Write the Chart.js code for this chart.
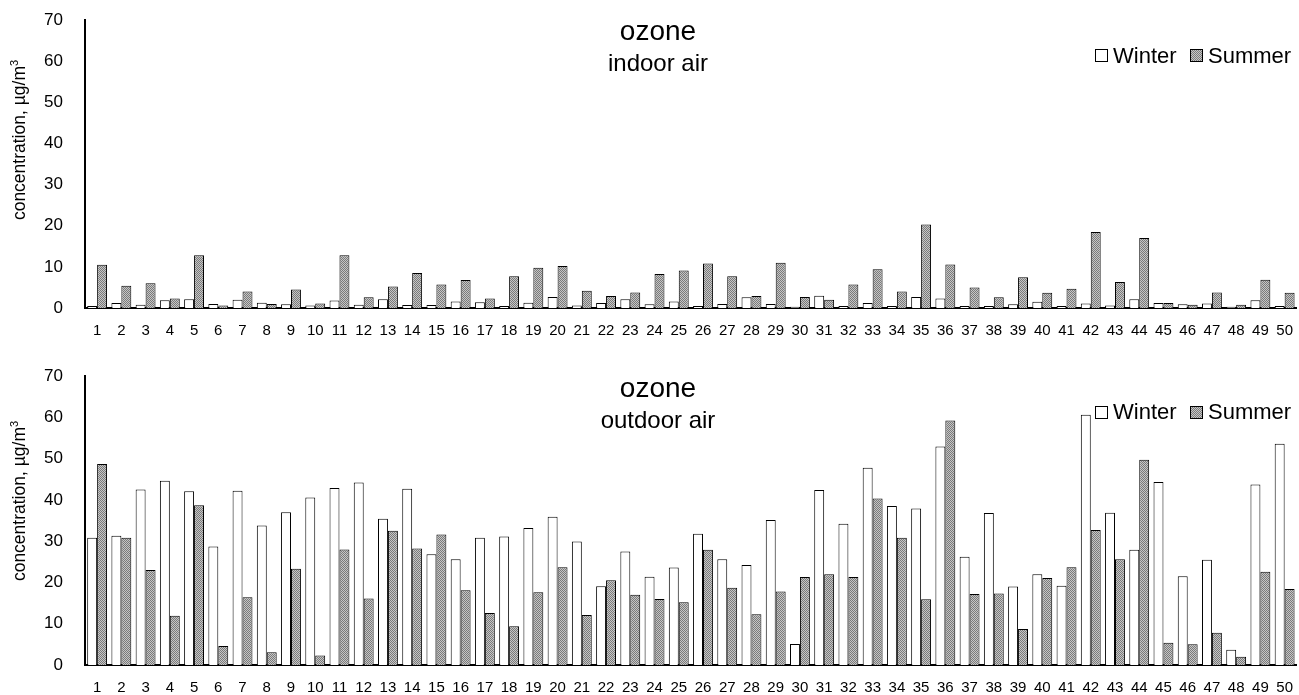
<!DOCTYPE html>
<html>
<head>
<meta charset="utf-8">
<script src="https://cdn.jsdelivr.net/npm/chart.js@4.4.0/dist/chart.umd.min.js"></script>
<style>
  body { margin: 0; background: #fff; width: 1299px; height: 695px; overflow: hidden; position: relative;
         font-family: Arial, "Liberation Sans", sans-serif; color: #000; }
  .box { position: absolute; left: 0; width: 1299px; }
  .txt { position: absolute; white-space: nowrap; line-height: 1; }
  .ytitle { position: absolute; font-size: 17.5px; white-space: nowrap; line-height: 1;
            transform: translate(-50%, -50%) rotate(-90deg); }
  .ytitle sup { font-size: 11px; vertical-align: 7px; line-height: 0; }
  .sw { position: absolute; width: 11px; height: 11px; border: 1px solid #000; box-sizing: content-box; }
  .gray { background: repeating-conic-gradient(#7a7a7a 0 25%, #c6c6c6 0 50%) 0 0 / 2px 2px; }
</style>
</head>
<body>
<div class="box" style="top:-4px;height:344px"><canvas id="top"></canvas></div>
<div class="box" style="top:340px;height:355px"><canvas id="bottom"></canvas></div>

<div class="txt" style="left:658px;top:17px;font-size:28px;transform:translateX(-50%)">ozone</div>
<div class="txt" style="left:658px;top:51px;font-size:24px;transform:translateX(-50%)">indoor air</div>
<div class="txt" style="left:658px;top:374px;font-size:28px;transform:translateX(-50%)">ozone</div>
<div class="txt" style="left:658px;top:408px;font-size:24px;transform:translateX(-50%)">outdoor air</div>

<div class="ytitle" style="left:20px;top:140px">concentration, µg/m<sup>3</sup></div>
<div class="ytitle" style="left:20px;top:501px">concentration, µg/m<sup>3</sup></div>

<div class="sw" style="left:1095px;top:49px;background:#fff"></div>
<div class="txt" style="left:1113px;top:45px;font-size:22px">Winter</div>
<div class="sw gray" style="left:1190px;top:49px"></div>
<div class="txt" style="left:1208px;top:45px;font-size:22px">Summer</div>

<div class="sw" style="left:1095px;top:406px;background:#fff"></div>
<div class="txt" style="left:1113px;top:401px;font-size:22px">Winter</div>
<div class="sw gray" style="left:1190px;top:406px"></div>
<div class="txt" style="left:1208px;top:401px;font-size:22px">Summer</div>

<script>
const sites = ["1","2","3","4","5","6","7","8","9","10","11","12","13","14","15","16","17","18","19","20",
  "21","22","23","24","25","26","27","28","29","30","31","32","33","34","35","36","37","38","39","40",
  "41","42","43","44","45","46","47","48","49","50"];

const indoorWinter = [0.5,1.2,0.8,1.9,2.1,1.0,2.0,1.3,0.9,0.6, 1.8,0.8,2.1,0.7,0.7,1.6,1.4,0.5,1.3,2.7,
  0.6,1.2,2.1,0.9,1.6,0.5,1.0,2.6,1.0,0.3, 3.0,0.5,1.2,0.5,2.7,2.3,0.5,0.5,0.9,1.5,
  0.5,1.1,0.6,2.1,1.2,0.9,1.1,0.3,1.9,0.5];
const indoorSummer = [10.5,5.4,6.0,2.3,12.8,0.6,4.0,1.0,4.5,1.1, 12.8,2.6,5.2,8.5,5.7,6.8,2.3,7.7,9.8,10.2,
  4.2,2.9,3.8,8.3,9.1,10.8,7.7,2.9,11.0,2.7, 2.0,5.7,9.4,4.0,20.3,10.6,5.0,2.6,7.5,3.7,
  4.7,18.5,6.3,17.0,1.2,0.8,3.8,0.8,6.9,3.7];
const outdoorWinter = [30.8,31.3,42.5,44.6,42.1,28.7,42.2,33.8,37.0,40.6, 42.9,44.2,35.4,42.7,26.8,25.6,30.8,31.1,33.2,35.9,
  29.9,19.1,27.5,21.4,23.6,31.8,25.6,24.2,35.1,5.1, 42.4,34.2,47.8,38.5,37.9,52.9,26.2,36.8,19.0,22.0,
  19.2,60.6,36.9,27.9,44.3,21.5,25.5,3.7,43.7,53.6];
const outdoorSummer = [48.7,30.8,23.0,11.9,38.7,4.6,16.4,3.1,23.3,2.3, 28.0,16.1,32.5,28.2,31.6,18.1,12.6,9.4,17.6,23.7,
  12.1,20.5,17.0,16.0,15.2,27.9,18.7,12.3,17.8,21.3, 22.0,21.3,40.3,30.8,15.9,59.2,17.2,17.3,8.7,21.1,
  23.7,32.7,25.6,49.7,5.4,5.0,7.8,2.0,22.6,18.4];

const yTicks = [0, 10, 20, 30, 40, 50, 60, 70];

const FONT = 'Arial, "Liberation Sans", sans-serif';

// stippled grey like the scanned figure
function grayPattern() {
  const c = document.createElement("canvas");
  c.width = 2; c.height = 2;
  const g = c.getContext("2d");
  g.fillStyle = "#c6c6c6"; g.fillRect(0, 0, 2, 2);
  g.fillStyle = "#7a7a7a"; g.fillRect(0, 0, 1, 1); g.fillRect(1, 1, 1, 1);
  return g.createPattern(c, "repeat");
}

function makeChart(id, winter, summer, padTop, xAxisHeight) {
  const ctx = document.getElementById(id).getContext("2d");
  return new Chart(ctx, {
    type: "bar",
    data: {
      labels: sites,
      datasets: [
        { label: "Winter", data: winter, backgroundColor: "#fff", borderColor: "#000", borderWidth: 1,
          borderSkipped: "bottom", categoryPercentage: 0.82, barPercentage: 1.0 },
        { label: "Summer", data: summer, backgroundColor: grayPattern(), borderColor: "#000", borderWidth: 1,
          borderSkipped: "bottom", categoryPercentage: 0.82, barPercentage: 1.0 }
      ]
    },
    options: {
      responsive: true,
      maintainAspectRatio: false,
      animation: false,
      layout: { padding: { top: padTop, right: 2, bottom: 0, left: 0 } },
      plugins: { legend: { display: false }, title: { display: false }, tooltip: { enabled: false } },
      scales: {
        x: {
          grid: { display: false },
          border: { display: true, color: "#000", width: 2 },
          ticks: { color: "#000", font: { family: FONT, size: 15 }, padding: 6, autoSkip: false, maxRotation: 0 },
          afterFit: (s) => { s.height = xAxisHeight; }
        },
        y: {
          min: 0, max: 70,
          grid: { display: false },
          border: { display: true, color: "#000", width: 2 },
          afterBuildTicks: (s) => { s.ticks = yTicks.map((v) => ({ value: v })); },
          ticks: { color: "#000", font: { family: FONT, size: 17 }, padding: 14 },
          afterFit: (s) => { s.width = 85; }
        }
      }
    }
  });
}

makeChart("top", indoorWinter, indoorSummer, 15, 32);
makeChart("bottom", outdoorWinter, outdoorSummer, 36, 30);
</script>
</body>
</html>
